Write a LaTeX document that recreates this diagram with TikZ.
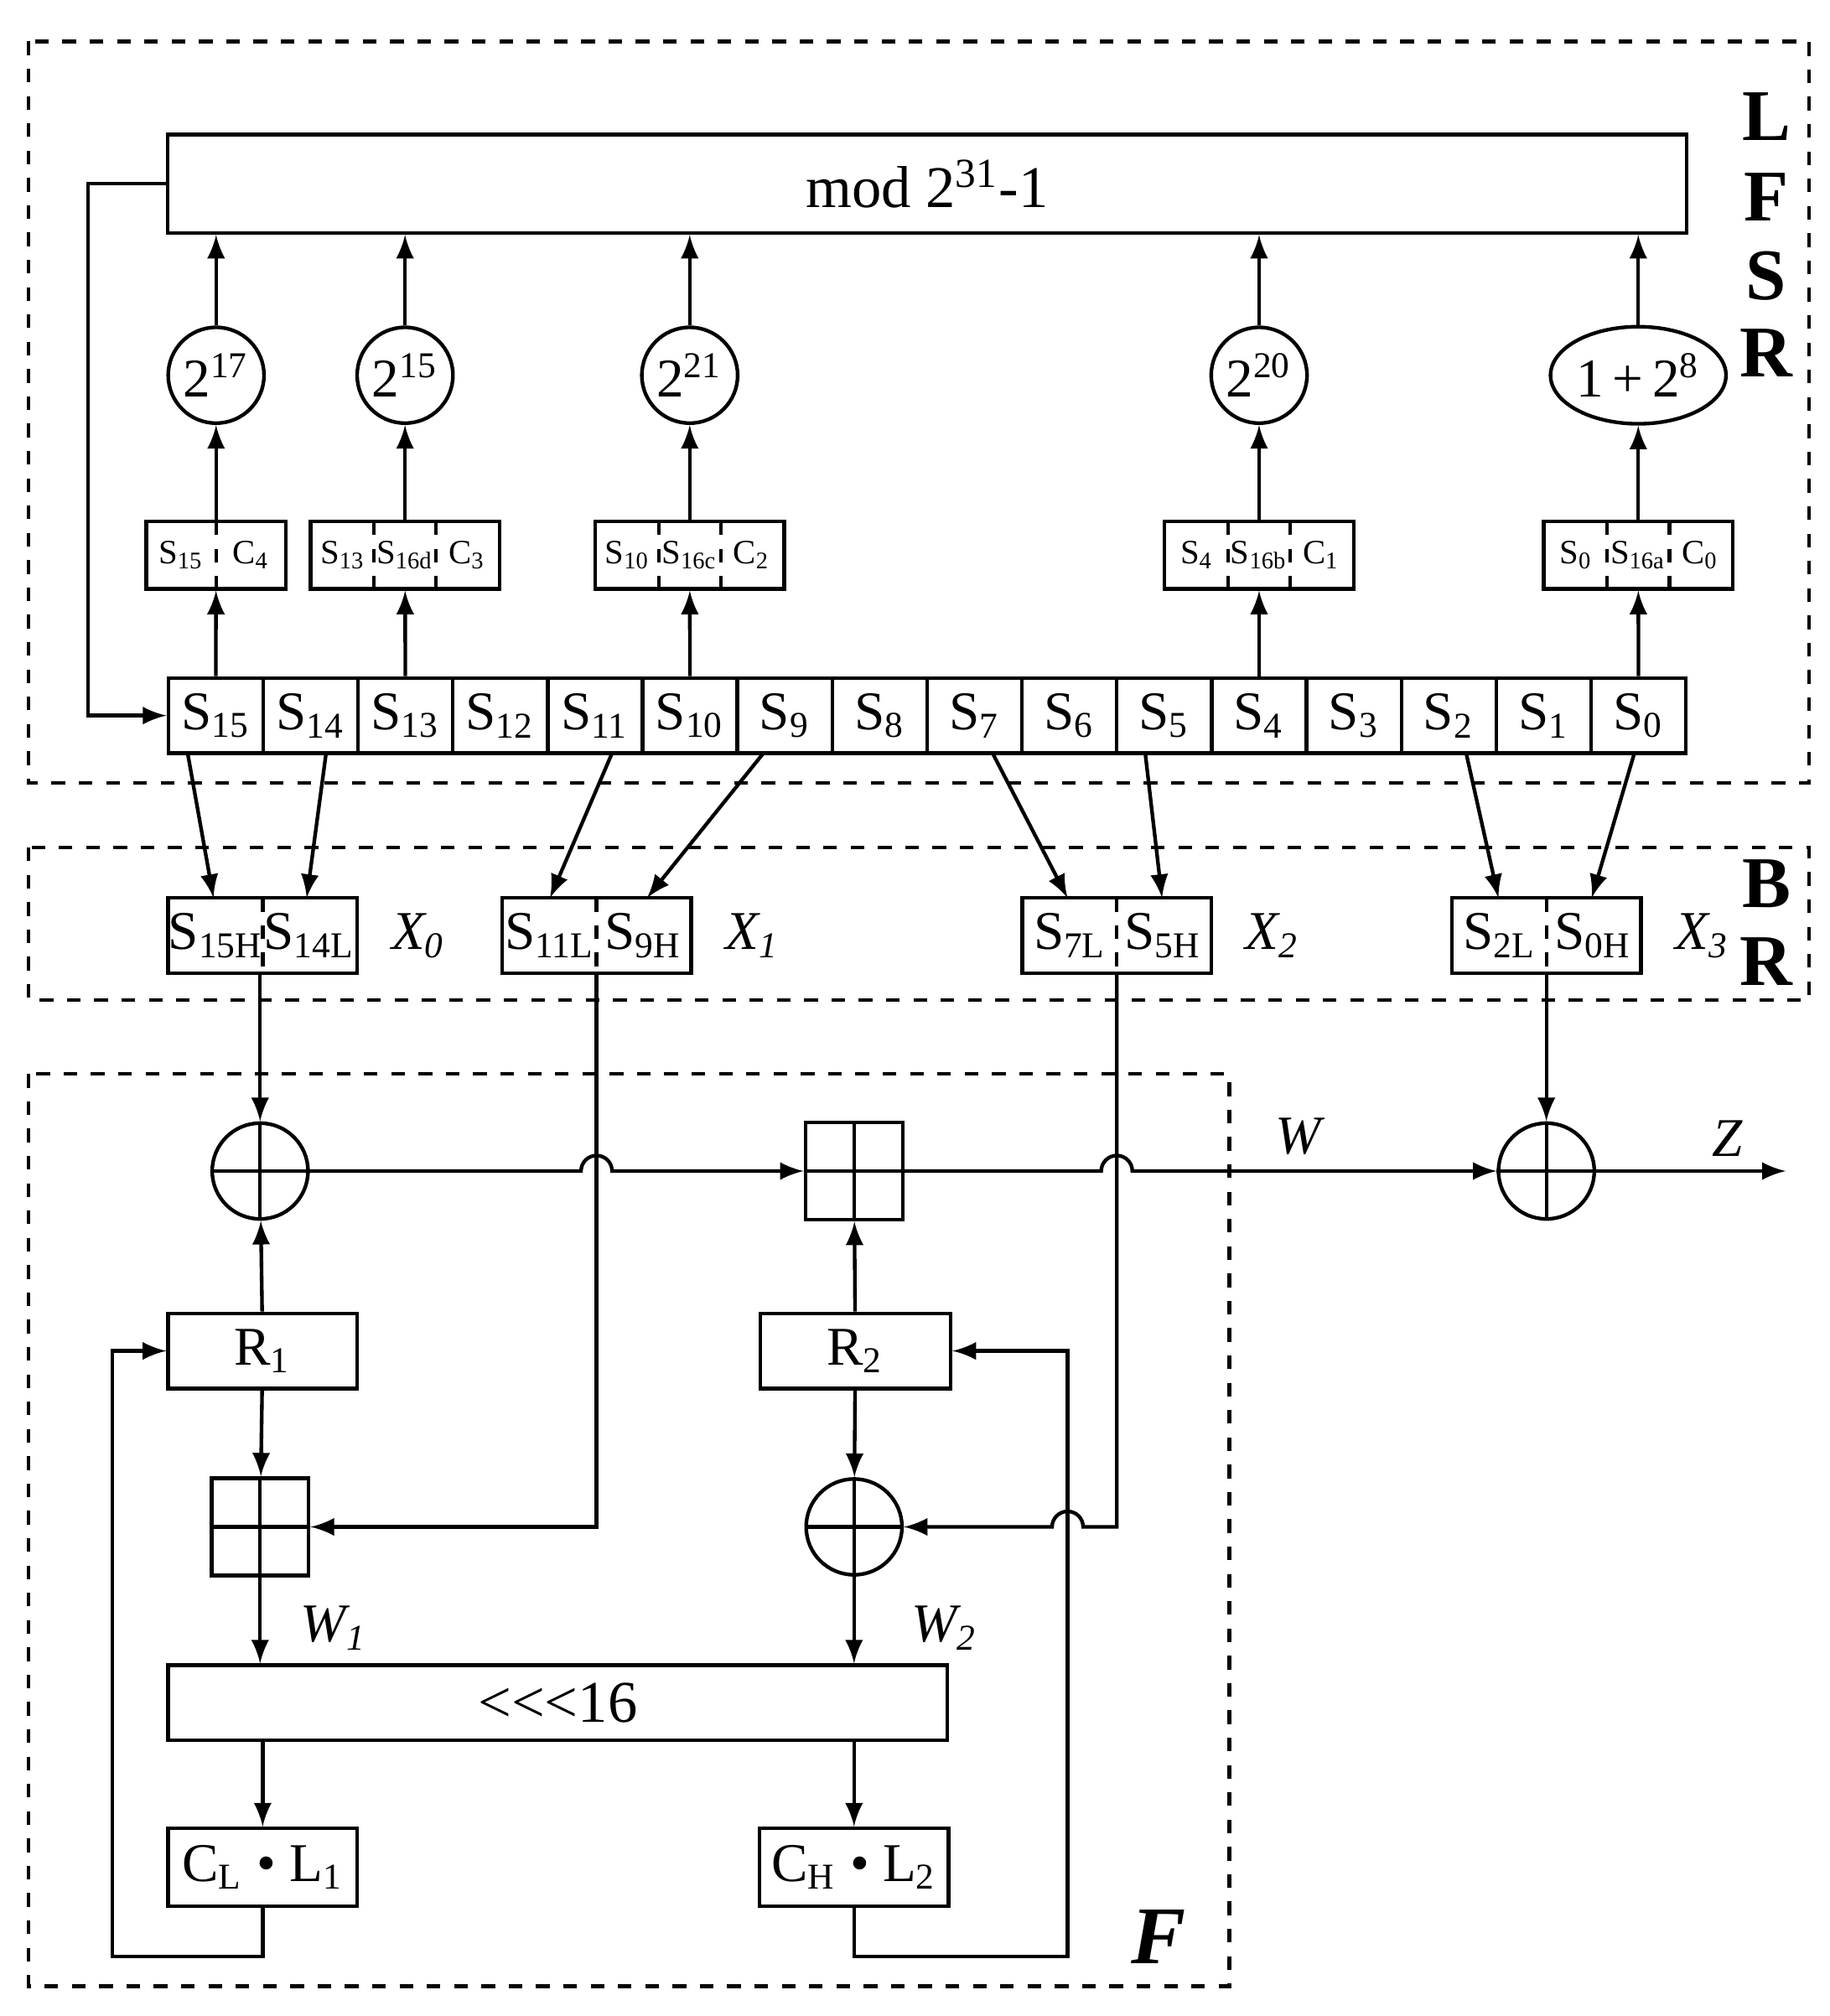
\documentclass[tikz,border=0pt]{standalone}
\usepackage{fontspec}
\setmainfont{Liberation Serif}
\usetikzlibrary{positioning,shapes.geometric}
\tikzset{
  box/.style={draw,thick,rectangle,inner sep=0pt},
  reg/.style={box,minimum width=0.733cm,minimum height=0.58cm,font=\fontsize{12}{12}\selectfont},
  sbox/.style={box,minimum height=0.52cm},
  stxt/.style={font=\fontsize{7.5}{8}\selectfont,inner sep=0pt},
  mul/.style={draw,thick,circle,minimum size=0.74cm,inner sep=0pt,font=\fontsize{12}{12}\selectfont},
  xorn/.style={draw,thick,circle,minimum size=0.74cm,inner sep=0pt},
  addn/.style={draw,thick,rectangle,minimum size=0.75cm,inner sep=0pt},
  frame/.style={draw,thick,dashed},
  lbl/.style={font=\fontsize{12}{12}\selectfont\itshape},
  big/.style={font=\fontsize{16}{16}\selectfont\bfseries},
}
\begin{document}
\begin{tikzpicture}[x=0.01cm,y=-0.01cm,>={latex[scale=1.3]},thick]
\useasboundingbox (0,0) rectangle (1414,1558);
% Frames
\draw[frame] (22,32) rectangle (1398,605);
\draw[frame] (22,655) rectangle (1398,773);
\draw[frame] (22,830) rectangle (950,1535);
\node[big] at (1365,90) {L};
\node[big] at (1365,152) {F};
\node[big] at (1365,213) {S};
\node[big] at (1365,273) {R};
\node[big] at (1365,683) {B};
\node[big] at (1365,743) {R};
\node[big,font=\fontsize{18}{18}\selectfont\bfseries\itshape] at (895,1497) {F};

% mod box
\node[box,minimum width=11.73cm,minimum height=0.76cm,font=\fontsize{13}{13}\selectfont] (mod) at (716.5,142) {mod 2\textsuperscript{31}-1};

% register
\foreach \i in {0,...,15}{
  \pgfmathtruncatemacro\k{15-\i}
  \node[reg] (s\k) at ({166.7+73.3*\i},553) {S\textsubscript{\k}};
}

% multipliers
\node[mul] (m17) at (167,290) {2\textsuperscript{17}};
\node[mul] (m15) at (313,290) {2\textsuperscript{15}};
\node[mul] (m21) at (533,290) {2\textsuperscript{21}};
\node[mul] (m20) at (973,290) {2\textsuperscript{20}};
\node[draw,thick,ellipse,minimum width=1.2cm,minimum height=0.75cm,inner sep=0pt,font=\fontsize{12}{12}\selectfont] (m8) at (1266,290) {1\,+\,2\textsuperscript{8}};

% small boxes
\node[sbox,minimum width=1.08cm] (b15) at (167,429) {};
\node[sbox,minimum width=1.46cm] (b13) at (313,429) {};
\node[sbox,minimum width=1.46cm] (b10) at (533,429) {};
\node[sbox,minimum width=1.46cm] (b4) at (973,429) {};
\node[sbox,minimum width=1.46cm] (b0) at (1266,429) {};
\draw[dashed] (167,403) -- (167,455);
\node[stxt] at (140,429) {S\textsubscript{15}};
\node[stxt] at (194,429) {C\textsubscript{4}};
\foreach \c/\a/\b/\d in {313/13/16d/3,533/10/16c/2,973/4/16b/1,1266/0/16a/0}{
  \draw[dashed] (\c-24,403) -- (\c-24,455);
  \draw[dashed] (\c+24,403) -- (\c+24,455);
  \node[stxt] at (\c-48,429) {S\textsubscript{\a}};
  \node[stxt] at (\c,429) {S\textsubscript{\b}};
  \node[stxt] at (\c+48,429) {C\textsubscript{\d}};
}

% register to small boxes to multipliers to mod
\foreach \s/\b/\m in {s15/b15/m17,s13/b13/m15,s10/b10/m21,s4/b4/m20,s0/b0/m8}{
  \draw[->] (\s) -- (\b);
  \draw[->] (\b) -- (\m);
  \draw[->] (\m) -- (\m|-mod.south);
}

% feedback into register
\coordinate (fb1) at (68,142);
\coordinate (fb2) at (68,553);
\draw[->] (mod.west|-fb1) -- (fb1) -- (fb2) -- (s15.west);

% BR boxes
\foreach \n/\c/\a/\b/\j in {x0/203/15H/14L/0,x1/461/11L/9H/1,x2/863/7L/5H/2,x3/1195/2L/0H/3}{
  \node[box,minimum width=1.46cm,minimum height=0.58cm] (\n) at (\c,723) {};
  \draw[dashed] (\c,694) -- (\c,752);
  \node[font=\fontsize{12}{12}\selectfont] at (\c-36,723) {S\textsubscript{\a}};
  \node[font=\fontsize{12}{12}\selectfont] at (\c+36,723) {S\textsubscript{\b}};
  \node[lbl,right=0.12cm of \n] {X\textsubscript{\j}};
}
\draw[->] (145,582) -- (165,694);
\draw[->] (252,582) -- (237,694);
\draw[->] (473,582) -- (425,694);
\draw[->] (590,582) -- (500,694);
\draw[->] (767,582) -- (825,694);
\draw[->] (885,582) -- (898,694);
\draw[->] (1133,582) -- (1158,694);
\draw[->] (1263,582) -- (1230,694);

% F part
\node[xorn] (xor1) at (201,905) {};
\node[addn] (add1) at (660,905) {};
\node[xorn] (xorz) at (1195,905) {};
\node[addn] (add2) at (201,1180) {};
\node[xorn] (xor2) at (660,1180) {};
\foreach \n in {xor1,xorz,xor2}{
  \draw (\n.north) -- (\n.south) (\n.west) -- (\n.east);
}
\foreach \n in {add1,add2}{
  \draw (\n.north) -- (\n.south) (\n.west) -- (\n.east);
}
\node[box,minimum width=1.46cm,minimum height=0.58cm,font=\fontsize{12}{12}\selectfont] (r1) at (203,1044) {R\textsubscript{1}};
\node[box,minimum width=1.47cm,minimum height=0.58cm,font=\fontsize{12}{12}\selectfont] (r2) at (661,1044) {R\textsubscript{2}};
\node[box,minimum width=6.02cm,minimum height=0.58cm,font=\fontsize{13}{13}\selectfont] (rot) at (431,1316) {<{}<{}<16};
\node[box,minimum width=1.46cm,minimum height=0.6cm,font=\fontsize{12}{12}\selectfont] (cl) at (203,1443) {C\textsubscript{L} \textbullet{} L\textsubscript{1}};
\node[box,minimum width=1.46cm,minimum height=0.6cm,font=\fontsize{12}{12}\selectfont] (ch) at (660,1443) {C\textsubscript{H} \textbullet{} L\textsubscript{2}};
\coordinate (z) at (1380,905);

\draw[->] (x0.south-|xor1) -- (xor1);
\draw[->] (x3.south-|xorz) -- (xorz);
\draw[->] (xor1) -- (449,905) arc (180:360:12) -- (add1);
\draw[->] (add1) -- (851,905) arc (180:360:12) -- (xorz);
\draw[->] (xorz) -- (z);
\node[lbl] at (1003,878) {W};
\node[lbl] at (1335,880) {Z};
\draw[->] (r1) -- (xor1);
\draw[->] (r2) -- (add1);
\draw[->] (r1) -- (add2);
\draw[->] (r2) -- (xor2);
\draw[->] (x1.south) -- (461,1180) -- (add2);
\draw[->] (x2.south) -- (863,1180) -- (837,1180) arc (0:-180:12) -- (xor2);
\draw[->] (add2) -- (rot.north-|add2);
\draw[->] (xor2) -- (rot.north-|xor2);
\node[lbl] at (258,1258) {W\textsubscript{1}};
\node[lbl] at (730,1258) {W\textsubscript{2}};
\draw[->] (rot.south-|cl) -- (cl);
\draw[->] (rot.south-|ch) -- (ch);
\draw[->] (cl.south) -- (203,1512) -- (87,1512) -- (87,1044) -- (r1.west);
\draw[->] (ch.south) -- (660,1512) -- (825,1512) -- (825,1044) -- (r2.east);
\end{tikzpicture}
\end{document}
